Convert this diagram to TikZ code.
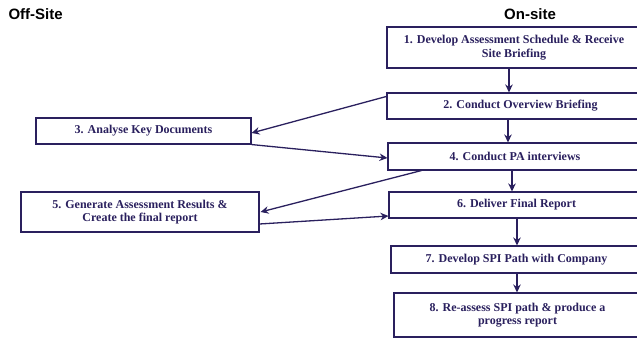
\documentclass[tikz,border=0pt]{standalone}
\usepackage{fontspec}
\setmainfont{Liberation Serif}
\setsansfont{Liberation Sans}
\usetikzlibrary{arrows.meta}
\definecolor{stepnavy}{RGB}{42,32,94}
\begin{document}
\begin{tikzpicture}[x=1pt, y=-1pt, line width=1.1pt,
  step box/.style={rectangle, draw=stepnavy, fill=white, inner sep=0pt, align=center,
    text=stepnavy, font=\fontsize{12}{13.5}\selectfont\bfseries},
  side label/.style={font=\fontsize{15}{17}\selectfont\sffamily\bfseries, inner sep=0pt},
  flow/.style={draw=stepnavy, line width=1.3pt, -{Stealth[length=8pt,width=7.5pt]}},
  down/.style={flow, line width=1.9pt}]

  \useasboundingbox (0,0) rectangle (637,339);
  \clip (0,0) rectangle (637,339);

  \node[side label, anchor=base west] at (8, 20) (off) {Off-Site};
  \node[side label, anchor=base] at (530, 20) (on) {On-site};

  \node[step box, minimum width=254, minimum height=41] at (514, 47.5) (n1) {1. Develop Assessment Schedule \& Receive\\Site Briefing};
  \node[step box, minimum width=267, minimum height=26] at (520.5, 106) (n2) {2. Conduct Overview Briefing};
  \node[step box, minimum width=215, minimum height=26] at (143.5, 131) (n3) {3. Analyse Key Documents};
  \node[step box, minimum width=254, minimum height=27] at (515, 156.5) (n4) {4. Conduct PA interviews};
  \node[step box, minimum width=238, minimum height=40] at (140, 212) (n5) {5. Generate Assessment Results \&\\Create the final report};
  \node[step box, minimum width=255, minimum height=26] at (516.5, 205) (n6) {6. Deliver Final Report};
  \node[step box, minimum width=251, minimum height=27] at (516.5, 259.5) (n7) {7. Develop SPI Path with Company};
  \node[step box, minimum width=247, minimum height=44] at (517.5, 315) (n8) {8. Re-assess SPI path \& produce a\\progress report};

  \path ([xshift=-5pt]n1.south) edge[down] ([xshift=-11.5pt]n2.north);
  \path ([xshift=-12.5pt]n2.south) edge[down] ([xshift=-7pt]n4.north);
  \path ([xshift=-3pt]n4.south) edge[down] ([xshift=-4.5pt]n6.north);
  \path ([xshift=0.5pt]n6.south) edge[down] ([xshift=0.5pt]n7.north);
  \path ([xshift=0.5pt]n7.south) edge[down] ([xshift=-0.5pt]n8.north);

  \path ([yshift=-4pt]n2.north west) edge[flow] ([yshift=-2pt]n3.east);
  \path (n3.south east) edge[flow] ([yshift=-1.5pt]n4.west);
  \path ([xshift=34pt]n4.south west) edge[flow] ([xshift=1pt]n5.east);
  \path ([yshift=-12pt]n5.east) edge[flow] ([yshift=-11pt]n6.west);
\end{tikzpicture}
\end{document}
